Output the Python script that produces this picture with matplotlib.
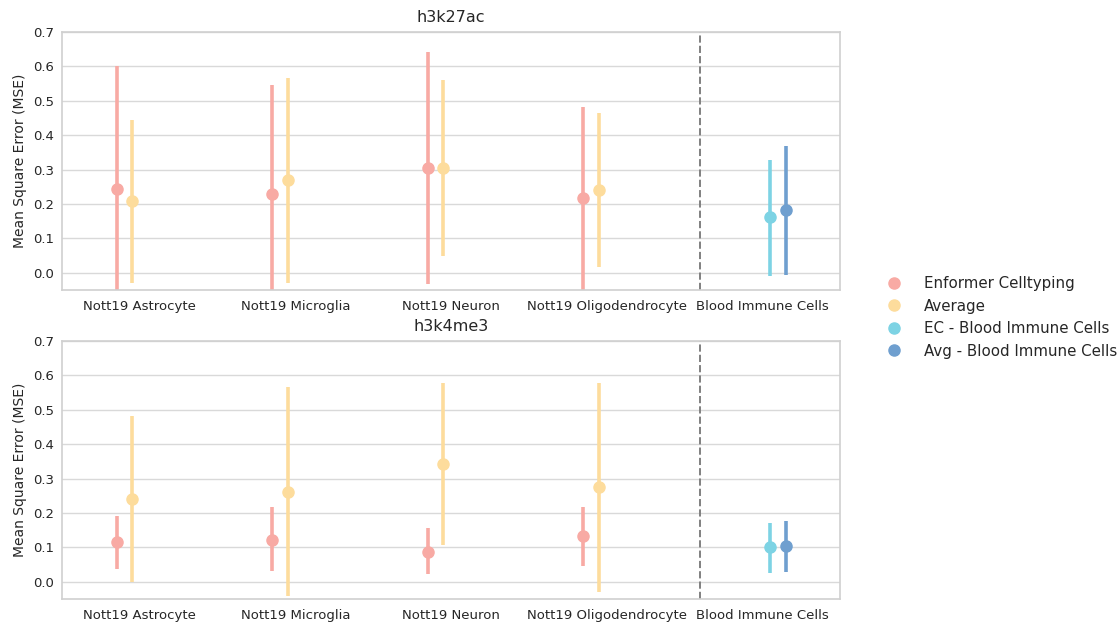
import matplotlib
matplotlib.use("Agg")
import matplotlib.pyplot as plt
import numpy as np

categories = ["Nott19 Astrocyte", "Nott19 Microglia", "Nott19 Neuron",
              "Nott19 Oligodendrocyte", "Blood Immune Cells"]
series_names = ["Enformer Celltyping", "Average",
                "EC - Blood Immune Cells", "Avg - Blood Immune Cells"]
colors = ["#f8aaa4", "#fddc9c", "#7dd3e4", "#6f9fcf"]
titles = ["h3k27ac", "h3k4me3"]

# h3k27ac: mean, lower, upper for each series (first four brain categories, last blood)
h3k27ac_enformer = [0.245, 0.228, 0.306, 0.217]
h3k27ac_enformer_lo = [-0.11, -0.09, -0.032, -0.06]
h3k27ac_enformer_hi = [0.600, 0.546, 0.643, 0.481]
h3k27ac_average = [0.209, 0.269, 0.306, 0.240]
h3k27ac_average_lo = [-0.029, -0.030, 0.048, 0.017]
h3k27ac_average_hi = [0.445, 0.567, 0.561, 0.465]
h3k27ac_ec_blood = [0.161]
h3k27ac_ec_blood_lo = [-0.008]
h3k27ac_ec_blood_hi = [0.329]
h3k27ac_avg_blood = [0.183]
h3k27ac_avg_blood_lo = [-0.006]
h3k27ac_avg_blood_hi = [0.370]

h3k4me3_enformer = [0.115, 0.123, 0.088, 0.132]
h3k4me3_enformer_lo = [0.038, 0.030, 0.022, 0.045]
h3k4me3_enformer_hi = [0.192, 0.217, 0.155, 0.217]
h3k4me3_average = [0.242, 0.261, 0.343, 0.275]
h3k4me3_average_lo = [-0.001, -0.042, 0.107, -0.030]
h3k4me3_average_hi = [0.483, 0.565, 0.579, 0.579]
h3k4me3_ec_blood = [0.100]
h3k4me3_ec_blood_lo = [0.027]
h3k4me3_ec_blood_hi = [0.172]
h3k4me3_avg_blood = [0.103]
h3k4me3_avg_blood_lo = [0.028]
h3k4me3_avg_blood_hi = [0.177]

panels = [
    [(h3k27ac_enformer, h3k27ac_enformer_lo, h3k27ac_enformer_hi, [0, 1, 2, 3]),
     (h3k27ac_average, h3k27ac_average_lo, h3k27ac_average_hi, [0, 1, 2, 3]),
     (h3k27ac_ec_blood, h3k27ac_ec_blood_lo, h3k27ac_ec_blood_hi, [4]),
     (h3k27ac_avg_blood, h3k27ac_avg_blood_lo, h3k27ac_avg_blood_hi, [4])],
    [(h3k4me3_enformer, h3k4me3_enformer_lo, h3k4me3_enformer_hi, [0, 1, 2, 3]),
     (h3k4me3_average, h3k4me3_average_lo, h3k4me3_average_hi, [0, 1, 2, 3]),
     (h3k4me3_ec_blood, h3k4me3_ec_blood_lo, h3k4me3_ec_blood_hi, [4]),
     (h3k4me3_avg_blood, h3k4me3_avg_blood_lo, h3k4me3_avg_blood_hi, [4])],
]

offsets = [-0.15, -0.05, 0.05, 0.15]

plt.rcParams['font.family'] = ['DejaVu Sans']
fig = plt.figure(figsize=(11.2, 6.23), dpi=100)
axes_rects = [[0.0554, 0.5345, 0.6946, 0.4141],
              [0.0554, 0.0385, 0.6946, 0.4141]]

handles = []
for pi, rect in enumerate(axes_rects):
    ax = fig.add_axes(rect)
    ax.set_axisbelow(True)
    ax.yaxis.grid(True, color="#d9d9d9", linewidth=1.0)
    ax.xaxis.grid(False)
    for s in ax.spines.values():
        s.set_color("#d0d0d0")
        s.set_linewidth(1.2)
    for si, (m, lo, hi, cats) in enumerate(panels[pi]):
        x = np.array(cats, dtype=float) + offsets[si]
        m = np.array(m); lo = np.array(lo); hi = np.array(hi)
        ax.vlines(x, lo, hi, color=colors[si], linewidth=2.6, zorder=2)
        h, = ax.plot(x, m, 'o', color=colors[si], markersize=8, linestyle='none',
                     zorder=3, label=series_names[si])
        if pi == 0:
            handles.append(h)
    ax.axvline(3.6, color="#808080", linestyle="--", linewidth=1.4, zorder=1)
    ax.set_xlim(-0.5, 4.5)
    ax.set_ylim(-0.05, 0.7)
    ax.set_yticks(np.arange(0, 0.71, 0.1))
    ax.set_yticklabels([f"{v:.1f}" for v in np.arange(0, 0.71, 0.1)])
    ax.set_xticks(range(len(categories)))
    ax.set_xticklabels(categories)
    ax.tick_params(axis='x', length=0, labelsize=9.5, colors="#262626", pad=7)
    ax.tick_params(axis='y', length=0, labelsize=9.5, colors="#262626", pad=6)
    ax.set_ylabel("Mean Square Error (MSE)", fontsize=10, color="#262626")
    ax.set_title(titles[pi], fontsize=11.5, color="#262626", pad=7)

leg = fig.legend(handles, series_names, loc="center left", bbox_to_anchor=(0.7796, 0.4906),
                 frameon=False, fontsize=10.8, handletextpad=1.0, labelspacing=0.5,
                 markerscale=1.0, borderaxespad=0.0)
for t in leg.get_texts():
    t.set_color("#262626")

fig.savefig("out.png", dpi=100)
